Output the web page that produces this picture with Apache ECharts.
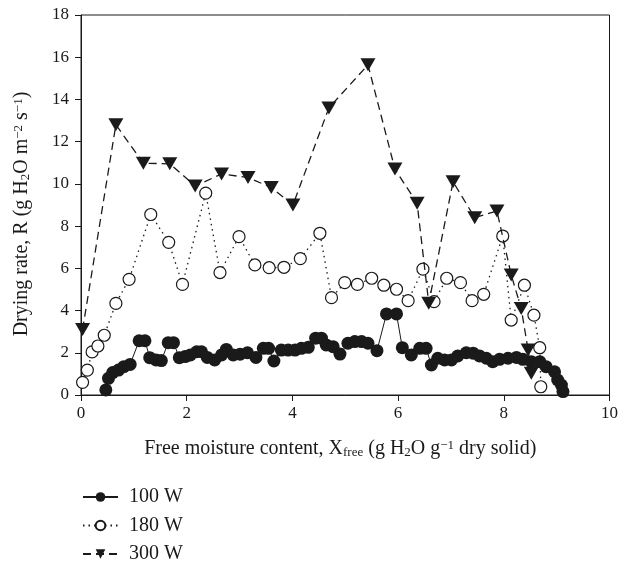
<!DOCTYPE html>
<html>
<head>
<meta charset="utf-8">
<script src="https://cdn.jsdelivr.net/npm/echarts@6/dist/echarts.min.js"></script>
<style>
  html, body { margin: 0; padding: 0; background: #ffffff; }
  #chart { width: 621px; height: 567px; }
</style>
</head>
<body>
<div id="chart"></div>
<script>
// ---- Data ----
const seriesNames = ['100 W', '180 W', '300 W'];

const x100 = [0.47,0.52,0.60,0.71,0.81,0.93,1.10,1.21,1.30,1.42,1.52,1.65,1.75,1.86,1.97,2.07,2.19,2.28,2.39,2.53,2.66,2.75,2.88,3.01,3.15,3.31,3.45,3.55,3.65,3.79,3.92,4.05,4.17,4.30,4.44,4.55,4.64,4.77,4.90,5.05,5.18,5.31,5.43,5.60,5.78,5.97,6.08,6.25,6.41,6.53,6.63,6.75,6.88,7.01,7.13,7.29,7.42,7.54,7.67,7.79,7.92,8.08,8.24,8.36,8.52,8.68,8.80,8.96,9.02,9.09,9.12];
const y100 = [0.24,0.79,1.06,1.18,1.34,1.45,2.57,2.57,1.77,1.66,1.63,2.48,2.48,1.77,1.82,1.90,2.05,2.05,1.78,1.66,1.90,2.16,1.90,1.93,2.00,1.78,2.21,2.21,1.61,2.13,2.13,2.13,2.21,2.26,2.69,2.69,2.37,2.29,1.94,2.45,2.53,2.53,2.45,2.10,3.84,3.84,2.24,1.90,2.21,2.21,1.42,1.74,1.66,1.66,1.85,2.00,1.98,1.85,1.74,1.58,1.69,1.74,1.78,1.69,1.58,1.58,1.34,1.10,0.71,0.47,0.16];

const x180 = [0.03,0.12,0.21,0.32,0.44,0.66,0.91,1.32,1.66,1.92,2.36,2.63,2.99,3.29,3.56,3.84,4.15,4.52,4.74,4.99,5.23,5.50,5.73,5.97,6.19,6.47,6.68,6.92,7.18,7.40,7.62,7.98,8.14,8.39,8.57,8.68,8.70];
const y180 = [0.60,1.18,2.04,2.32,2.83,4.34,5.48,8.55,7.23,5.24,9.56,5.80,7.50,6.16,6.03,6.05,6.46,7.66,4.61,5.32,5.24,5.53,5.20,5.01,4.47,5.96,4.42,5.53,5.32,4.47,4.77,7.53,3.55,5.20,3.78,2.24,0.39];

const x300 = [0.03,0.66,1.18,1.68,2.16,2.66,3.16,3.60,4.01,4.69,5.43,5.94,6.36,6.58,7.04,7.45,7.87,8.14,8.33,8.46,8.52];
const y300 = [3.10,12.80,10.98,10.95,9.90,10.47,10.30,9.83,9.00,13.60,15.64,10.70,9.08,4.35,10.10,8.40,8.72,5.69,4.10,2.13,1.03];

const xTicks = { min: 0, max: 10, interval: 2 };
const yTicks = { min: 0, max: 18, interval: 2 };

// ---- Build ----
function zip(xs, ys) { return xs.map((x, i) => [x, ys[i]]); }

const FONT = '"Liberation Serif", "DejaVu Serif", serif';
const INK = '#1a1a1a';

const richStyles = {
  sub: { fontSize: 13, lineHeight: 6, verticalAlign: 'bottom', fontFamily: FONT, color: INK },
  sup: { fontSize: 13, lineHeight: 8, verticalAlign: 'top', fontFamily: FONT, color: INK }
};

const chart = echarts.init(document.getElementById('chart'), null, { renderer: 'canvas' });

chart.setOption({
  animation: false,
  backgroundColor: '#ffffff',
  grid: {
    left: 81, right: 11, top: 15, bottom: 172,
    show: true, borderColor: INK, borderWidth: 1, backgroundColor: 'transparent'
  },
  legend: {
    orient: 'vertical',
    left: 82, top: 487, padding: 0,
    itemWidth: 35, itemHeight: 12, itemGap: 8.5,
    textStyle: { fontSize: 20, fontFamily: FONT, color: INK, padding: [0, 0, 0, 6] },
    data: seriesNames
  },
  xAxis: {
    type: 'value',
    min: xTicks.min, max: xTicks.max, interval: xTicks.interval,
    name: 'Free moisture content, X{sub|free} (g H{sub|2}O g{sup|\u22121} dry solid)',
    nameLocation: 'middle', nameGap: 44,
    nameTextStyle: { fontSize: 20, fontFamily: FONT, color: INK, rich: richStyles, padding: [0, 10, 0, 0] },
    axisLine: { show: true, onZero: false, lineStyle: { color: INK, width: 1 } },
    axisTick: { show: true, inside: false, length: 6, lineStyle: { color: INK } },
    axisLabel: { fontSize: 17, fontFamily: FONT, color: INK, margin: 10 },
    splitLine: { show: false }
  },
  yAxis: {
    type: 'value',
    min: yTicks.min, max: yTicks.max, interval: yTicks.interval,
    name: 'Drying rate, R (g H{sub|2}O m{sup|\u22122} s{sup|\u22121})',
    nameLocation: 'middle', nameGap: 49,
    nameTextStyle: { fontSize: 20, fontFamily: FONT, color: INK, rich: richStyles, padding: [0, 18, 0, 0] },
    axisLine: { show: true, onZero: false, lineStyle: { color: INK, width: 1 } },
    axisTick: { show: true, inside: false, length: 6, lineStyle: { color: INK } },
    axisLabel: { fontSize: 17, fontFamily: FONT, color: INK, margin: 12 },
    splitLine: { show: false }
  },
  series: [
    {
      name: seriesNames[0], type: 'line', data: zip(x100, y100),
      symbol: 'circle', symbolSize: 13,
      itemStyle: { color: INK, borderColor: INK, borderWidth: 0 },
      lineStyle: { color: INK, width: 1, type: 'solid' },
      z: 2
    },
    {
      name: seriesNames[1], type: 'line', data: zip(x180, y180),
      symbol: 'circle', symbolSize: 12,
      itemStyle: { color: '#ffffff', borderColor: INK, borderWidth: 1.2 },
      lineStyle: { color: INK, width: 1.3, type: [1.5, 4] },
      z: 3
    },
    {
      name: seriesNames[2], type: 'line', data: zip(x300, y300),
      symbol: 'path://M0,0L14,0L7,12Z', symbolSize: [15, 13],
      itemStyle: { color: INK, borderColor: INK, borderWidth: 0 },
      lineStyle: { color: INK, width: 1.3, type: [8, 5] },
      z: 4
    }
  ]
});
</script>
</body>
</html>
